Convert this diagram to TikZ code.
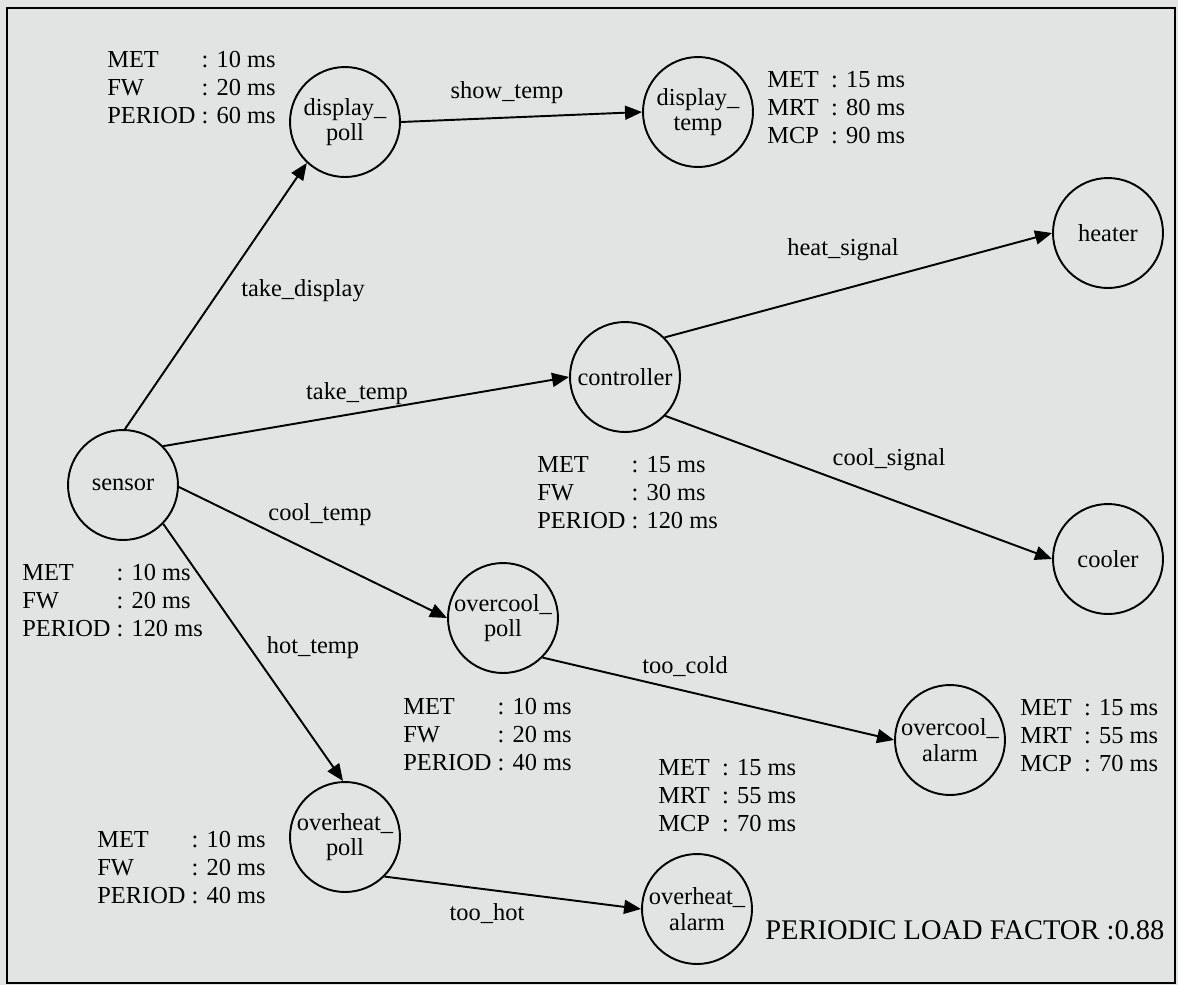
\documentclass[tikz,border=0pt]{standalone}
\usepackage{fontspec}
\setmainfont{Liberation Serif}
\usetikzlibrary{arrows.meta}
\definecolor{paper}{RGB}{226,228,227}
\newcommand{\polltimes}[3]{\begin{tabular}{@{}l@{\ }l@{}}MET & : #1 ms\\ FW & : #2 ms\\ PERIOD & : #3 ms\end{tabular}}
\newcommand{\alarmtimes}[3]{\begin{tabular}{@{}l@{\hspace{0.5em}}l@{}}MET & : #1 ms\\ MRT & : #2 ms\\ MCP & : #3 ms\end{tabular}}

\begin{document}
\begin{tikzpicture}[x=0.02cm,y=-0.02cm,
  proc/.style={draw,circle,line width=1.1pt,minimum size=2.2cm,inner sep=0pt,align=center,font=\rmfamily\fontsize{13.9}{14.5}\selectfont},
  flow/.style={line width=1.1pt,-{Triangle[length=0.34cm,width=0.28cm]}},
  lbl/.style={inner sep=0pt,font=\rmfamily\fontsize{13.9}{15.9}\selectfont},
  info/.style={anchor=west,inner sep=0pt,font=\rmfamily\fontsize{13.9}{15.9}\selectfont}]
 \fill[paper] (0,0) rectangle (1178,985);
 \useasboundingbox (0,0) rectangle (1178,985);
 \draw[line width=1pt] (7,8) rectangle (1175,983);

 \node[proc] (sensor) at (123,485) {sensor};
 \node[proc] (dpoll) at (345,122) {display\_\\poll};
 \node[proc] (dtemp) at (698,112) {display\_\\temp};
 \node[proc] (ctrl) at (625,377) {controller};
 \node[proc] (heater) at (1108,233) {heater};
 \node[proc] (cooler) at (1108,559) {cooler};
 \node[proc] (cpoll) at (503,618) {overcool\_\\poll};
 \node[proc] (calarm) at (950,740) {overcool\_\\alarm};
 \node[proc] (hpoll) at (345,837) {overheat\_\\poll};
 \node[proc] (halarm) at (697,909) {overheat\_\\alarm};

 \draw[flow] (sensor.88) -- (dpoll.227);
 \draw[flow] (sensor.44) -- (ctrl.180);
 \draw[flow] (sensor.-2) -- (cpoll.180);
 \draw[flow] (sensor.-44) -- (hpoll.92);
 \draw[flow] (dpoll.0) -- (dtemp.180);
 \draw[flow] (ctrl.45) -- (heater.180);
 \draw[flow] (ctrl.-44) -- (cooler.180);
 \draw[flow] (cpoll.-45) -- (calarm.180);
 \draw[flow] (hpoll.-45) -- (halarm.180);

 \node[lbl] (ltakedisp) at (303,291) {take\_display};
 \node[lbl] (ltaketemp) at (357,394) {take\_temp};
 \node[lbl] (lshow) at (507,93) {show\_temp};
 \node[lbl] (lheat) at (843,250) {heat\_signal};
 \node[lbl] (lcoolsig) at (889,460) {cool\_signal};
 \node[lbl] (lcooltemp) at (320,515) {cool\_temp};
 \node[lbl] (lhot) at (313,648) {hot\_temp};
 \node[lbl] (lcold) at (685,667) {too\_cold};
 \node[lbl] (ltoohot) at (487,914) {too\_hot};

 \node[info] (tdpoll) at (107,90) {\polltimes{10}{20}{60}};
 \node[info] (tdtemp) at (767,110) {\alarmtimes{15}{80}{90}};
 \node[info] (tctrl) at (537,495) {\polltimes{15}{30}{120}};
 \node[info] (tsensor) at (22,603) {\polltimes{10}{20}{120}};
 \node[info] (tcpoll) at (403,737) {\polltimes{10}{20}{40}};
 \node[info] (tcalarm) at (1020,738) {\alarmtimes{15}{55}{70}};
 \node[info] (thalarm) at (658,798) {\alarmtimes{15}{55}{70}};
 \node[info] (thpoll) at (97,870) {\polltimes{10}{20}{40}};

 \node[anchor=west,inner sep=0pt,font=\rmfamily\fontsize{16.2}{18}\selectfont] (load) at (765,930) {PERIODIC LOAD FACTOR :0.88};
\end{tikzpicture}
\end{document}
